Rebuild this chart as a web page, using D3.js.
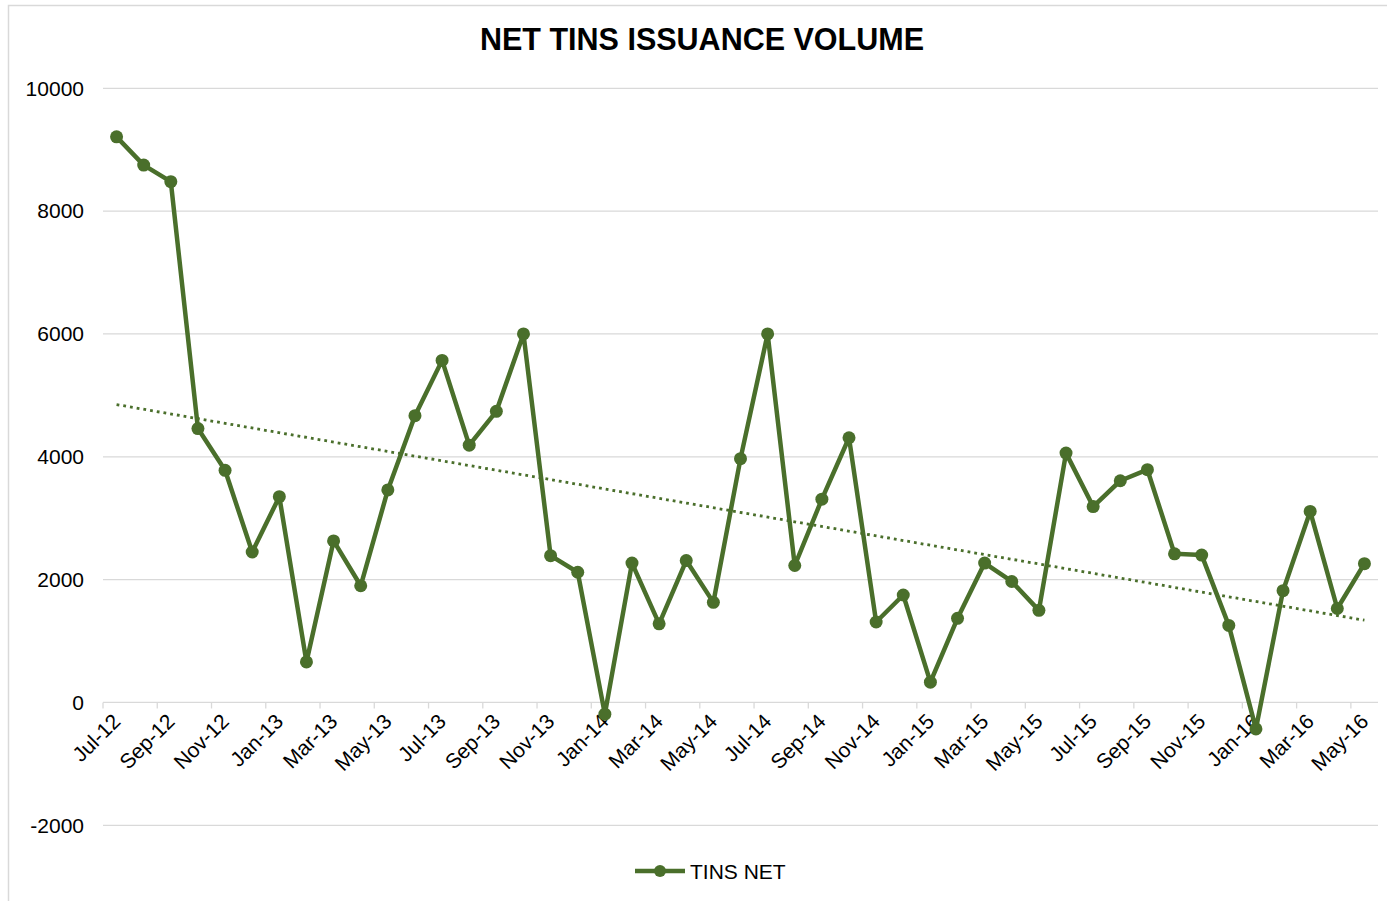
<!DOCTYPE html>
<html>
<head>
<meta charset="utf-8">
<script src="https://cdn.jsdelivr.net/npm/d3@7"></script>
<style>
  body { margin: 0; background: #fff; }
  svg { display: block; font-family: "Liberation Sans", Arial, sans-serif; }
</style>
</head>
<body>
<svg id="chart"></svg>
<script>
const months = [
  "Jul-12", "Aug-12", "Sep-12", "Oct-12", "Nov-12", "Dec-12",
  "Jan-13", "Feb-13", "Mar-13", "Apr-13", "May-13", "Jun-13",
  "Jul-13", "Aug-13", "Sep-13", "Oct-13", "Nov-13", "Dec-13",
  "Jan-14", "Feb-14", "Mar-14", "Apr-14", "May-14", "Jun-14",
  "Jul-14", "Aug-14", "Sep-14", "Oct-14", "Nov-14", "Dec-14",
  "Jan-15", "Feb-15", "Mar-15", "Apr-15", "May-15", "Jun-15",
  "Jul-15", "Aug-15", "Sep-15", "Oct-15", "Nov-15", "Dec-15",
  "Jan-16", "Feb-16", "Mar-16", "Apr-16", "May-16"
];

const tinsNet = [
  9210, 8750, 8480, 4460, 3780, 2450,
  3350, 660, 2630, 1900, 3460, 4670,
  5570, 4190, 4740, 6000, 2390, 2120,
  -190, 2270, 1280, 2310, 1630, 3970,
  6000, 2230, 3310, 4310, 1310, 1750,
  330, 1370, 2270, 1970, 1500, 4060,
  3190, 3610, 3790, 2420, 2400, 1255,
  -430, 1820, 3110, 1530, 2260
];

const yTicks = [-2000, 0, 2000, 4000, 6000, 8000, 10000];

const width = 1387;
const height = 901;
const lineColor = "#4a6f2b";
const gridColor = "#d9d9d9";

var svg = d3.select("#chart")
  .attr("width", width)
  .attr("height", height);

// chart area border (cut off at right and bottom like the screenshot)
svg.append("rect")
  .attr("x", 8.5)
  .attr("y", 5.5)
  .attr("width", width + 20)
  .attr("height", height + 20)
  .attr("fill", "none")
  .attr("stroke", gridColor)
  .attr("stroke-width", 1.5);

var xScale = d3.scaleBand()
  .domain(months)
  .range([103, 1378])
  .padding(0);

var yScale = d3.scaleLinear()
  .domain([-2000, 10000])
  .range([825.3, 88.3]);

function cx(d, i) {
  return xScale(months[i]) + xScale.bandwidth() / 2;
}

// horizontal gridlines
svg.append("g")
  .selectAll("line")
  .data(yTicks)
  .enter().append("line")
  .attr("x1", 103)
  .attr("x2", 1378)
  .attr("y1", d => yScale(d))
  .attr("y2", d => yScale(d))
  .attr("stroke", gridColor)
  .attr("stroke-width", 1.3);

// y labels
svg.append("g")
  .selectAll("text")
  .data(yTicks)
  .enter().append("text")
  .attr("x", 84)
  .attr("y", d => yScale(d))
  .attr("dy", "0.35em")
  .attr("text-anchor", "end")
  .style("font-size", "21px")
  .attr("fill", "#000")
  .text(d => d);

// x axis ticks at category boundaries, every second category
var tickMonths = months.filter((d, i) => i % 2 === 0);
svg.append("g")
  .selectAll("line")
  .data(tickMonths)
  .enter().append("line")
  .attr("x1", d => xScale(d))
  .attr("x2", d => xScale(d))
  .attr("y1", yScale(0))
  .attr("y2", yScale(0) + 6)
  .attr("stroke", gridColor)
  .attr("stroke-width", 1.3);

// x labels, rotated
svg.append("g")
  .selectAll("text")
  .data(tickMonths)
  .enter().append("text")
  .attr("transform", d => "translate(" + (xScale(d) + xScale.bandwidth() / 2) + "," + (yScale(0) + 15) + ") rotate(-45)")
  .attr("text-anchor", "end")
  .attr("dy", "0.35em")
  .style("font-size", "21px")
  .attr("fill", "#000")
  .text(d => d);

// linear trendline from least squares fit
var idx = tinsNet.map((d, i) => i);
var mx = d3.mean(idx);
var my = d3.mean(tinsNet);
var slope = d3.sum(idx, i => (i - mx) * (tinsNet[i] - my)) / d3.sum(idx, i => (i - mx) * (i - mx));
var intercept = my - slope * mx;
var n = tinsNet.length;

svg.append("line")
  .attr("x1", cx(null, 0))
  .attr("x2", cx(null, n - 1))
  .attr("y1", yScale(intercept))
  .attr("y2", yScale(intercept + slope * (n - 1)))
  .attr("stroke", lineColor)
  .attr("stroke-width", 2.8)
  .attr("stroke-dasharray", "2.8,4");

// series line
var line = d3.line()
  .x((d, i) => cx(d, i))
  .y(d => yScale(d));

svg.append("path")
  .datum(tinsNet)
  .attr("fill", "none")
  .attr("stroke", lineColor)
  .attr("stroke-width", 4.5)
  .attr("stroke-linejoin", "round")
  .attr("d", line);

svg.append("g")
  .selectAll("circle")
  .data(tinsNet)
  .enter().append("circle")
  .attr("cx", (d, i) => cx(d, i))
  .attr("cy", d => yScale(d))
  .attr("r", 6.5)
  .attr("fill", lineColor);

// title
svg.append("text")
  .attr("x", 702)
  .attr("y", 50)
  .attr("text-anchor", "middle")
  .style("font-size", "30.5px")
  .style("font-weight", "bold")
  .attr("fill", "#000")
  .text("NET TINS ISSUANCE VOLUME");

// legend
var legend = svg.append("g");
legend.append("line")
  .attr("x1", 635)
  .attr("x2", 685)
  .attr("y1", 871)
  .attr("y2", 871)
  .attr("stroke", lineColor)
  .attr("stroke-width", 4.5);
legend.append("circle")
  .attr("cx", 660)
  .attr("cy", 871)
  .attr("r", 6)
  .attr("fill", lineColor);
legend.append("text")
  .attr("x", 690)
  .attr("y", 878.5)
  .style("font-size", "21px")
  .attr("fill", "#000")
  .text("TINS NET");
</script>
</body>
</html>
